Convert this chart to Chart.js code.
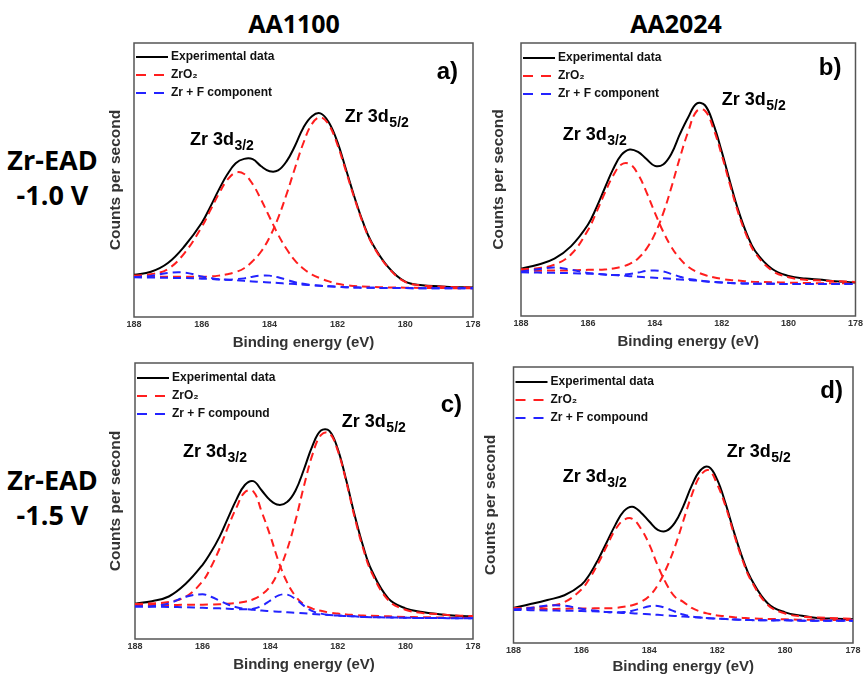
<!DOCTYPE html>
<html><head><meta charset="utf-8">
<script src="https://cdn.jsdelivr.net/npm/chart.js@4.4.1/dist/chart.umd.min.js"></script>
<style>
html,body{margin:0;padding:0;background:#fff;}
#wrap{position:relative;width:865px;height:677px;overflow:hidden;background:#fff;}
canvas{position:absolute;}
.hdr{position:absolute;font-family:'Open Sans','Liberation Sans',sans-serif;font-weight:700;color:#000;text-align:center;white-space:nowrap;}
</style></head><body>
<div id="wrap">
<div class="hdr" style="left:194px;top:8px;width:200px;font-size:25px;line-height:30px;">AA1100</div>
<div class="hdr" style="left:576px;top:8px;width:200px;font-size:25px;line-height:30px;">AA2024</div>
<div class="hdr" style="left:0;top:142px;width:105px;font-size:27px;line-height:35px;">Zr-EAD<br>-1.0 V</div>
<div class="hdr" style="left:0;top:462px;width:105px;font-size:27px;line-height:35px;">Zr-EAD<br>-1.5 V</div>
<canvas id="ca" width="383" height="320" style="left:100px;top:35px;"></canvas>
<canvas id="cb" width="382" height="319" style="left:483px;top:35px;"></canvas>
<canvas id="cc" width="383" height="322" style="left:100px;top:355px;"></canvas>
<canvas id="cd" width="390" height="318" style="left:475px;top:359px;"></canvas>
</div>
<script>
// ---- data (binding energy in eV, intensity in arbitrary counts) ----
const energy = [188,187.5,187,186.5,186,185.75,185.5,185.25,185,184.75,184.5,184.25,184,183.75,183.5,183.25,183,182.75,182.5,182.25,182,181.75,181.5,181.25,181,180.5,180,179.5,179,178.5,178];
const tickValues = [188,186,184,182,180,178];

// a) AA1100, -1.0 V
const expA    = [15.4,16.5,19.7,26.0,34.4,40.2,46.4,52.0,56.1,57.7,57.6,55.0,53.2,53.5,56.8,62.5,69.2,73.3,74.3,71.0,63.9,54.0,43.9,34.8,27.5,18.2,12.9,11.6,11.2,10.9,10.8];
const zro2A32 = [15.1,15.6,17.5,23.5,32.9,38.9,44.9,50.0,52.7,52.2,48.5,42.8,36.4,30.1,24.8,20.6,17.6,15.5,14.1,13.0,12.1,11.6,11.3,11.1,11.0,10.8,10.7,10.6,10.6,10.5,10.5];
const zro2A52 = [14.7,14.7,14.7,14.7,14.7,14.8,15.1,15.6,16.4,17.8,20.4,23.9,29.1,36.1,44.8,54.4,63.6,70.5,72.9,70.1,62.9,53.3,43.4,34.4,27.2,18.0,12.8,11.5,11.1,10.9,10.8];
const zrfA32  = [14.6,15.0,16.1,16.2,14.8,14.3,13.8,13.6,13.4,13.2,13.0,12.8,12.6,12.4,12.2,12.0,11.8,11.6,11.4,11.2,11.05,10.9,10.8,10.7,10.65,10.6,10.55,10.5,10.5,10.5,10.5];
const zrfA52  = [14.5,14.4,14.3,14.2,14.0,13.9,13.7,13.6,13.8,14.1,14.7,15.1,15.1,14.5,13.6,12.7,12.1,11.7,11.4,11.2,11.05,10.9,10.8,10.7,10.65,10.6,10.55,10.5,10.5,10.5,10.5];

// b) AA2024, -1.0 V
const expB    = [17.3,18.8,21.0,25.6,33.4,39.6,46.7,53.7,59.0,61.0,60.1,57.5,55.0,55.5,59.5,66.6,72.8,77.8,77.2,70.4,60.3,49.1,38.6,30.1,23.8,17.3,14.7,13.7,13.3,12.6,12.3];
const zro2B32 = [17.1,17.5,18.8,22.6,31.4,37.9,44.9,51.3,55.5,55.7,51.9,45.4,37.9,30.9,25.2,21.0,18.0,16.2,15.0,14.2,13.6,13.2,13.0,12.7,12.5,12.4,12.2,12.1,12.0,12.0,11.9];
const zro2B52 = [16.6,16.6,16.7,16.7,16.9,17.0,17.0,17.4,18.0,19.1,21.1,24.6,30.0,37.6,47.3,58.0,67.6,75.0,75.2,68.7,59.0,48.0,37.6,29.3,23.1,16.7,14.2,13.3,13.0,12.7,12.5];
const zrfB32  = [16.3,17.1,17.8,16.9,15.8,15.5,15.2,15.0,14.8,14.6,14.4,14.2,14.0,13.8,13.6,13.4,13.2,13.0,12.7,12.5,12.3,12.1,12.0,11.9,11.8,11.8,11.7,11.7,11.7,11.7,11.7];
const zrfB52  = [16.0,15.9,15.8,15.7,15.5,15.4,15.2,15.0,15.1,15.4,15.9,16.5,16.7,16.3,15.4,14.4,13.6,13.2,12.7,12.5,12.3,12.1,12.0,11.9,11.8,11.8,11.7,11.7,11.7,11.7,11.7];

// c) AA1100, -1.5 V
const expC    = [12.8,13.7,15.4,20.0,26.9,31.5,37.0,43.8,50.5,55.8,57.2,53.8,50.3,48.6,49.6,53.8,61.5,70.0,75.5,75.4,68.8,57.5,44.8,33.6,24.9,14.6,11.1,9.8,9.0,8.4,8.2];
const zro2C32 = [12.7,12.9,13.4,15.3,20.9,26.1,32.7,40.5,47.6,53.2,53.5,46.0,37.5,28.0,20.5,15.5,12.5,11.0,10.2,9.6,9.2,8.9,8.7,8.5,8.4,8.2,8.0,7.9,7.8,7.7,7.7];
const zro2C52 = [12.3,12.3,12.3,12.4,12.4,12.5,12.6,12.8,13.0,13.5,14.4,16.1,19.1,24.6,32.4,43.0,55.5,66.8,73.9,74.6,68.2,57.0,44.0,32.8,24.1,14.0,10.6,9.4,9.0,8.5,8.3];
const zrfC32  = [11.8,11.9,12.9,15.3,16.2,15.3,13.9,12.5,11.5,10.9,10.6,10.3,10.1,9.9,9.7,9.5,9.3,9.1,8.9,8.7,8.5,8.3,8.2,8.0,7.9,7.8,7.7,7.6,7.6,7.5,7.5];
const zrfC52  = [11.8,11.7,11.6,11.5,11.3,11.2,11.1,11.0,10.8,10.8,11.0,12.0,13.9,15.8,16.1,14.5,12.0,10.1,9.2,8.7,8.5,8.3,8.2,8.0,7.9,7.8,7.7,7.6,7.6,7.5,7.5];

// d) AA2024, -1.5 V
const expD    = [12.7,14.1,15.6,17.3,21.1,25.0,30.4,36.6,42.8,47.8,49.4,47.3,44.0,41.0,40.6,43.5,49.5,57.0,62.5,63.8,59.2,50.4,40.0,30.6,23.2,14.2,11.1,9.9,9.0,8.8,8.6];
const zro2D32 = [12.7,12.8,13.3,14.8,19.4,23.6,29.0,35.2,41.1,44.6,45.0,41.5,35.7,28.0,21.5,16.8,14.9,12.7,11.4,10.6,10.0,9.7,9.3,9.1,8.9,8.7,8.6,8.4,8.4,8.3,8.3];
const zro2D52 = [12.4,12.4,12.3,12.4,12.5,12.5,12.6,12.6,12.7,13.1,13.7,14.9,17.0,21.0,27.0,34.7,44.2,53.6,60.6,62.6,57.5,49.4,39.2,29.9,22.6,13.7,10.7,9.6,9.2,9.0,8.8];
const zrfD32  = [12.2,12.7,13.6,13.5,12.4,11.9,11.6,11.2,11.1,10.9,10.8,10.6,10.4,10.2,10.0,9.8,9.6,9.4,9.2,9.0,8.8,8.7,8.5,8.4,8.3,8.2,8.2,8.1,8.1,8.1,8.1];
const zrfD52  = [12.0,11.9,11.8,11.7,11.6,11.5,11.4,11.2,11.2,11.2,11.7,12.5,13.3,13.4,12.6,11.4,10.3,9.6,9.2,9.0,8.8,8.7,8.5,8.4,8.3,8.2,8.2,8.1,8.1,8.1,8.1];

// ---- layout / styling ----
const FONT = "'Liberation Sans', Arial, sans-serif";
Chart.defaults.font.family = FONT;
Chart.defaults.color = '#222';

const panels = [
  {id:'ca', exp:expA, r1:zro2A32, r2:zro2A52, b1:zrfA32, b2:zrfA52, fLabel:'Zr + F component', letter:'a)',
   letterPos:{dx:15, dy:36}, legendPos:{dx:2, dy:14}, pad:{top:8,right:10}, yWidth:34, xHeight:38, xTitlePad:3,
   peaks:[{t:'Zr 3d', s:'3/2', x:186.35, y:62.8},{t:'Zr 3d', s:'5/2', x:181.78, y:71.2}]},
  {id:'cb', exp:expB, r1:zro2B32, r2:zro2B52, b1:zrfB32, b2:zrfB52, fLabel:'Zr + F component', letter:'b)',
   letterPos:{dx:14, dy:32}, legendPos:{dx:2, dy:15}, pad:{top:8,right:9}, yWidth:38, xHeight:38, xTitlePad:3,
   peaks:[{t:'Zr 3d', s:'3/2', x:186.75, y:64.5},{t:'Zr 3d', s:'5/2', x:182.0, y:77.3}]},
  {id:'cc', exp:expC, r1:zro2C32, r2:zro2C52, b1:zrfC32, b2:zrfC52, fLabel:'Zr + F compound', letter:'c)',
   letterPos:{dx:11, dy:49}, legendPos:{dx:2, dy:15}, pad:{top:8,right:10}, yWidth:35, xHeight:38, xTitlePad:3,
   peaks:[{t:'Zr 3d', s:'3/2', x:186.58, y:65.9},{t:'Zr 3d', s:'5/2', x:181.88, y:76.8}]},
  {id:'cd', exp:expD, r1:zro2D32, r2:zro2D52, b1:zrfD32, b2:zrfD52, fLabel:'Zr + F compound', letter:'d)',
   letterPos:{dx:10, dy:31}, legendPos:{dx:2, dy:15}, pad:{top:8,right:12}, yWidth:38.5, xHeight:34, xTitlePad:1,
   peaks:[{t:'Zr 3d', s:'3/2', x:186.55, y:58.3},{t:'Zr 3d', s:'5/2', x:181.72, y:67.4}]}
];

const framePlugin = {
  id:'frame',
  beforeDatasetsDraw(chart){
    const {ctx, chartArea:c} = chart;
    ctx.save();
    ctx.strokeStyle = '#555';
    ctx.lineWidth = 1.5;
    ctx.strokeRect(c.left, c.top, c.right - c.left, c.bottom - c.top);
    ctx.restore();
  }
};

// legend drawn inside the plot area from the dataset labels / styles
const insideLegend = {
  id:'insideLegend',
  afterDatasetsDraw(chart, args, opts){
    const {ctx, chartArea:c} = chart;
    ctx.save();
    opts.items.forEach((di, k) => {
      const ds = chart.data.datasets[di];
      const y = c.top + opts.pos.dy + k * 18;
      const x0 = c.left + opts.pos.dx;
      ctx.strokeStyle = ds.borderColor;
      ctx.lineWidth = 2;
      ctx.setLineDash(ds.borderDash ? [10, 8] : []);
      ctx.beginPath(); ctx.moveTo(x0, y); ctx.lineTo(x0 + 32, y); ctx.stroke();
      ctx.setLineDash([]);
      ctx.fillStyle = '#111';
      ctx.font = "bold 12px " + FONT;
      ctx.textBaseline = 'middle';
      ctx.textAlign = 'left';
      ctx.fillText(ds.label, x0 + 35, y);
    });
    ctx.restore();
  }
};

const annotPlugin = {
  id:'annot',
  afterDatasetsDraw(chart, args, opts){
    const {ctx, chartArea:c, scales:{x, y}} = chart;
    ctx.save();
    ctx.fillStyle = '#000';
    ctx.textBaseline = 'alphabetic';
    ctx.textAlign = 'left';
    for (const p of opts.peaks) {
      const px = x.getPixelForValue(p.x), py = y.getPixelForValue(p.y);
      ctx.font = "bold 18px " + FONT;
      ctx.fillText(p.t, px, py);
      const w = ctx.measureText(p.t).width;
      ctx.font = "bold 14px " + FONT;
      ctx.fillText(p.s, px + w + 0.5, py + 5);
    }
    ctx.font = "bold 24px " + FONT;
    ctx.textAlign = 'right';
    ctx.fillText(opts.letter, c.right - opts.letterPos.dx, c.top + opts.letterPos.dy);
    ctx.restore();
  }
};

function series(arr){ return energy.map((e, i) => ({x:e, y:arr[i]})); }

panels.forEach(p => {
  const dashed = {borderWidth:2, borderDash:[8,5]};
  new Chart(document.getElementById(p.id), {
    type:'line',
    data:{datasets:[
      {label:'Experimental data', data:series(p.exp), borderColor:'#000', borderWidth:2, order:3},
      {label:'ZrO\u2082', data:series(p.r1), borderColor:'#ff1e1e', ...dashed, order:2},
      {label:'ZrO\u2082 (3d5/2)', data:series(p.r2), borderColor:'#ff1e1e', ...dashed, order:2},
      {label:p.fLabel, data:series(p.b1), borderColor:'#2323ff', ...dashed, order:1},
      {label:p.fLabel + ' (3d5/2)', data:series(p.b2), borderColor:'#2323ff', ...dashed, order:1}
    ]},
    options:{
      responsive:false, maintainAspectRatio:false, animation:false, devicePixelRatio:1,
      layout:{padding:{top:p.pad.top, right:p.pad.right, left:0, bottom:0}},
      elements:{point:{radius:0}, line:{tension:0.4, fill:false}},
      scales:{
        x:{type:'linear', reverse:true, min:178, max:188,
           afterBuildTicks:s => { s.ticks = tickValues.map(v => ({value:v})); },
           afterFit:s => { s.height = p.xHeight; },
           grid:{display:false, drawTicks:false}, border:{display:false},
           ticks:{padding:2, color:'#333', font:{size:9, weight:'bold'}, callback:v => String(v), maxRotation:0, autoSkip:false},
           title:{display:true, text:'Binding energy (eV)', color:'#333', font:{size:15, weight:'bold'}, padding:{top:0, bottom:p.xTitlePad}}},
        y:{min:0, max:100,
           afterFit:s => { s.width = p.yWidth; },
           grid:{display:false, drawTicks:false}, border:{display:false},
           ticks:{display:false},
           title:{display:true, text:'Counts per second', color:'#333', font:{size:15.5, weight:'bold'}, padding:{top:6, bottom:0}}}
      },
      plugins:{
        tooltip:{enabled:false},
        legend:{display:false},
        insideLegend:{items:[0,1,3], pos:p.legendPos},
        annot:{peaks:p.peaks, letter:p.letter, letterPos:p.letterPos}
      }
    },
    plugins:[framePlugin, insideLegend, annotPlugin]
  });
});
</script>
</body></html>
